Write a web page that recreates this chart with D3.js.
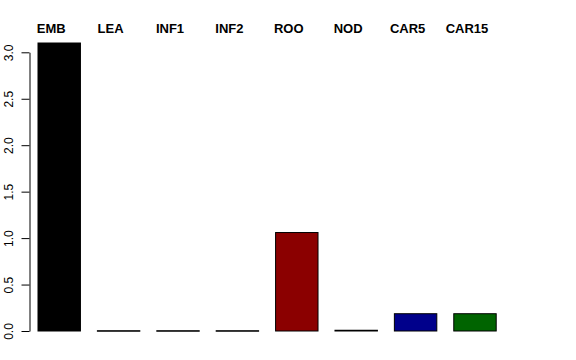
<!DOCTYPE html>
<html><head><meta charset="utf-8">
<script src="https://cdn.jsdelivr.net/npm/d3@7"></script>
<style>body{margin:0;background:#fff}svg{display:block}</style>
</head><body>
<svg id="c" width="576" height="360"></svg>
<script>
const categories = ["EMB","LEA","INF1","INF2","ROO","NOD","CAR5","CAR15"];
const values = [3.10, 0.003, 0.003, 0.003, 1.06, 0.008, 0.186, 0.186];
const colors = ["#000000","#555555","#555555","#555555","#8B0000","#000000","#00008B","#006400"];
const yTicks = [0, 0.5, 1.0, 1.5, 2.0, 2.5, 3.0];

const svg = d3.select("#c");
const y = d3.scaleLinear().domain([0, 3]).range([331, 52.3]);
// R barplot user coordinates: width 1, space 0.4
const x = d3.scaleLinear().domain([0.4, 11.2]).range([38, 496.2]);
const left = i => 0.4 + i * 1.4;

svg.selectAll("rect.bar").data(values).enter().append("rect")
  .attr("class","bar")
  .attr("x", (d,i) => x(left(i)))
  .attr("width", (d,i) => x(left(i)+1) - x(left(i)))
  .attr("y", d => y(d))
  .attr("height", d => Math.max(0.5, y(0) - y(d)))
  .attr("fill", (d,i) => colors[i])
  .attr("stroke", "#000").attr("stroke-width", 1);

svg.selectAll("text.cat").data(categories).enter().append("text")
  .attr("class","cat")
  .attr("x", (d,i) => x(left(i)+0.5) - 8)
  .attr("y", 33)
  .attr("text-anchor","middle")
  .attr("font-family","Liberation Sans, Arial, sans-serif")
  .attr("font-weight","bold")
  .attr("font-size", 13)
  .text(d => d);

const axis = d3.axisLeft(y).tickValues(yTicks).tickFormat(d3.format(".1f")).tickSize(8).tickSizeOuter(0);
const g = svg.append("g").attr("transform","translate(29.5,0)").call(axis);
g.select(".domain").attr("stroke","#000");
g.selectAll(".tick line").attr("stroke","#000");
g.selectAll(".tick text")
  .attr("font-family","Liberation Sans, Arial, sans-serif")
  .attr("font-size", 12)
  .attr("fill","#000")
  .attr("x", 0).attr("y", 0).attr("dy", 0)
  .attr("transform","translate(-16.5,0) rotate(-90)")
  .attr("text-anchor","middle");
</script>
</body></html>
